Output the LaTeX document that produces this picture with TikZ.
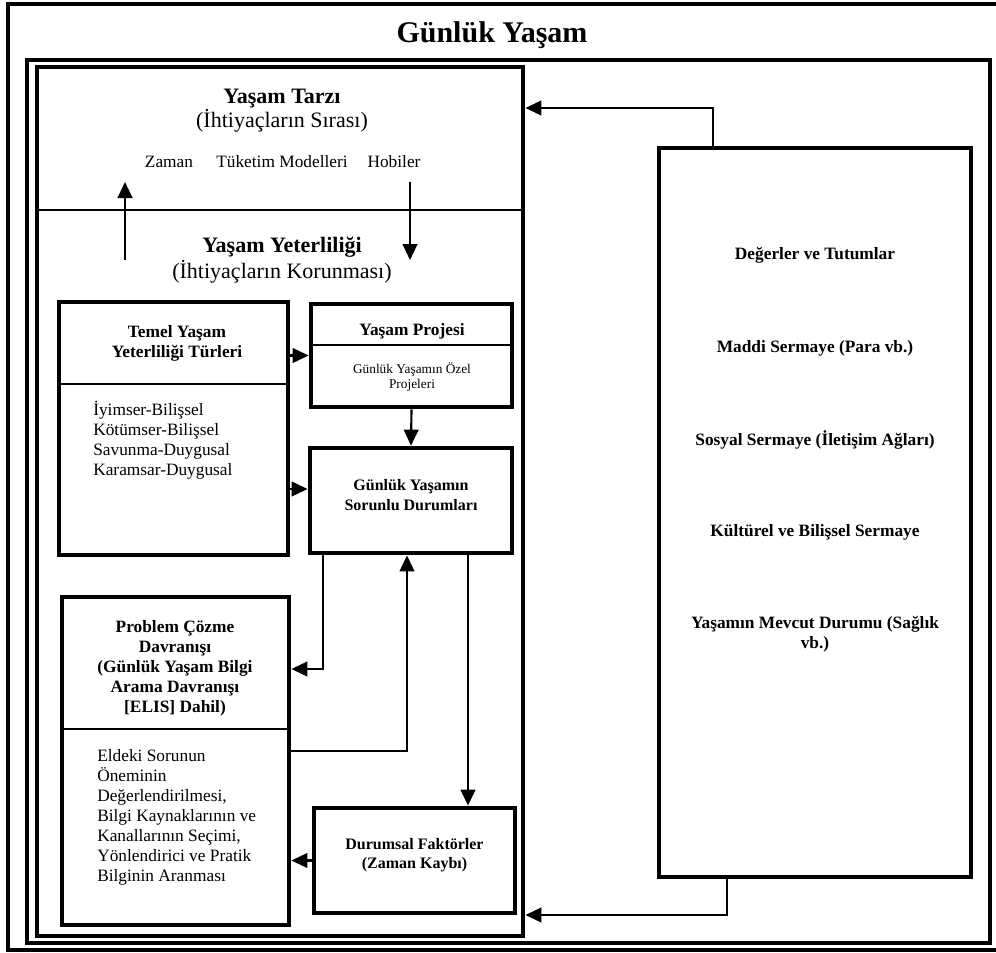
\documentclass[tikz,border=0pt]{standalone}
\usepackage{fontspec}
\setmainfont{Liberation Serif}
\usepackage{tikz}
\usetikzlibrary{positioning, fit, arrows.meta, calc}

\begin{document}
\begin{tikzpicture}[
        x=0.75pt, y=-0.75pt,
        frame/.style={draw, line width=3.4pt},
        box/.style={draw, rectangle, line width=3.6pt, inner sep=0pt},
        divider/.style={line width=1.5pt},
        arrow/.style={-{Triangle[length=12pt, width=11pt]}, line width=1.6pt},
        bighead/.style={font=\fontsize{16.5pt}{18pt}\selectfont, align=center, inner sep=0pt},
        head/.style={font=\bfseries\fontsize{13pt}{15pt}\selectfont, align=center, inner sep=0pt},
        smallhead/.style={font=\bfseries\fontsize{12pt}{14.5pt}\selectfont, align=center, inner sep=0pt},
        item/.style={font=\fontsize{13pt}{15pt}\selectfont, align=left, inner sep=0pt},
        note/.style={font=\fontsize{10pt}{11.5pt}\selectfont, align=center, inner sep=0pt}
    ]

    \useasboundingbox (0,0) rectangle (996,953);
    \clip (0,0) rectangle (996,953);

    % Frames of Daily Life
    \draw[frame] (8,4) rectangle (1002,950);
    \draw[frame] (27,60) rectangle (990,943);
    \node[font=\bfseries\fontsize{22.5pt}{26pt}\selectfont, inner sep=0pt] (gunluk) at (492,35) {Günlük Yaşam};

    % Left block: way of life / mastery of life
    \node[box, fit={(37,67) (523,936)}] (lifebox) {};
    \draw[divider] (37,210) -- (523,210);
    \node[bighead] (tarzi) at (282,111) {\textbf{Yaşam Tarzı}\\(İhtiyaçların Sırası)};
    \node[item, anchor=base] (zaman) at (169,167) {Zaman};
    \node[item, anchor=base] (tuketim) at (282,167) {Tüketim Modelleri};
    \node[item, anchor=base] (hobi) at (394,167) {Hobiler};
    \node[bighead] (yeterlilik) at (282,260) {\textbf{Yaşam Yeterliliği}\\[1.5pt](İhtiyaçların Korunması)};

    \coordinate (upfrom) at (125,260);
    \coordinate (upto) at (125,182);
    \coordinate (downfrom) at (410,182);
    \coordinate (downto) at (410,260);
    \draw[arrow] (upfrom) -- (upto);
    \draw[arrow] (downfrom) -- (downto);

    % Types of mastery
    \node[box, fit={(59,302) (288,555)}] (temel) {};
    \draw[divider] (59,384) -- (288,384);
    \node[head] (temelbaslik) at (177,343) {Temel Yaşam\\Yeterliliği Türleri};
    \node[item, anchor=west] (temelliste) at (93,440) {İyimser-Bilişsel\\Kötümser-Bilişsel\\Savunma-Duygusal\\Karamsar-Duygusal};

    % Project of life
    \node[box, fit={(311,304) (512,407)}] (proje) {};
    \draw[divider] (311,345) -- (512,345);
    \node[head] (projebaslik) at (412,331) {Yaşam Projesi};
    \node[note] (projenot) at (412,377) {Günlük Yaşamın Özel\\Projeleri};

    % Problematic situations
    \node[box, smallhead, fit={(310,448) (512,553)}] (sorun) {Günlük Yaşamın\\Sorunlu Durumları};

    % Problem solving behaviour
    \node[box, fit={(62,597) (289,925)}] (problem) {};
    \draw[divider] (62,729) -- (289,729);
    \node[head] (problembaslik) at (175,668) {Problem Çözme\\Davranışı\\(Günlük Yaşam Bilgi\\Arama Davranışı\\{[ELIS]} Dahil)};
    \node[item, anchor=west] (problemliste) at (97,817) {Eldeki Sorunun\\Öneminin\\Değerlendirilmesi,\\Bilgi Kaynaklarının ve\\Kanallarının Seçimi,\\Yönlendirici ve Pratik\\Bilginin Aranması};

    % Situational factors
    \node[box, smallhead, fit={(314,808) (515,913)}] (durum) {Durumsal Faktörler\\(Zaman Kaybı)};

    % Right block: capital
    \node[box, fit={(659,148) (971,877)}] (sermaye) {};
    \node[head] (degerler) at (815,255) {Değerler ve Tutumlar};
    \node[head] (maddi) at (815,348) {Maddi Sermaye (Para vb.)};
    \node[head] (sosyal) at (815,440) {Sosyal Sermaye (İletişim Ağları)};
    \node[head] (kultur) at (815,532) {Kültürel ve Bilişsel Sermaye};
    \node[head] (saglik) at (815,634) {Yaşamın Mevcut Durumu (Sağlık\\vb.)};

    % Edges inside the left block
    \coordinate (t2) at (288,489);
    \draw[arrow] (temel.east |- proje) -- (proje.west);
    \draw[arrow] (t2 -| temel.east) -- (t2 -| sorun.west);
    \draw[arrow] (proje.south) -- (sorun.north);

    \coordinate (sol) at (323,669);
    \coordinate (orta) at (407,751);
    \coordinate (sag) at (468,700);
    \draw[arrow] (sol |- sorun.south) -- (sol) -- (sol -| problem.east);
    \draw[arrow] (orta -| problem.east) -- (orta) -- (orta |- sorun.south);
    \draw[arrow] (sag |- sorun.south) -- (sag |- durum.north);
    \draw[arrow] (durum.west) -- (durum.west -| problem.east);

    % Edges from the capital block
    \coordinate (ustdirsek) at (713,108);
    \coordinate (altdirsek) at (727,915);
    \draw[arrow] (ustdirsek |- sermaye.north) -- (ustdirsek) -- (ustdirsek -| lifebox.east);
    \draw[arrow] (altdirsek |- sermaye.south) -- (altdirsek) -- (altdirsek -| lifebox.east);

\end{tikzpicture}
\end{document}
